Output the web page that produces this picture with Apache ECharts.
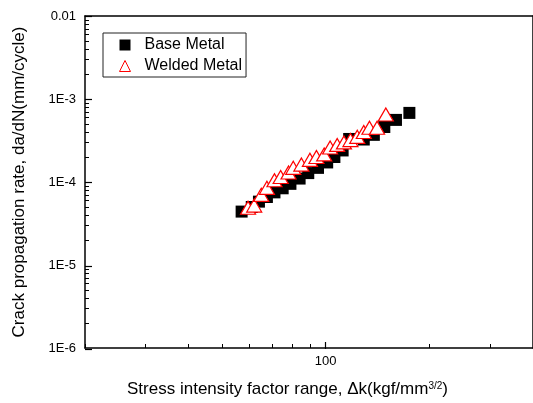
<!DOCTYPE html>
<html><head><meta charset="utf-8">
<script src="https://cdn.jsdelivr.net/npm/echarts@6/dist/echarts.min.js"></script>
<style>html,body{margin:0;padding:0;background:#fff}#c{width:533px;height:403px}</style>
</head><body><div id="c"></div>
<script>
// Data (stress intensity factor range in kgf/mm^3/2, crack growth rate in mm/cycle)
const baseK    = [57, 61, 64, 67.5, 71, 75, 79, 84, 89, 95, 101, 106, 112, 117, 129, 138, 148, 160, 175];
const baseRate = [4.4e-5, 5.0e-5, 5.8e-5, 6.6e-5, 7.5e-5, 8.4e-5, 9.5e-5, 1.1e-4, 1.28e-4, 1.48e-4, 1.72e-4, 2.0e-4, 2.4e-4, 3.3e-4, 3.25e-4, 3.7e-4, 4.6e-4, 5.6e-4, 6.8e-4];
const weldK    = [59.5, 62, 65, 67.5, 71, 74, 78, 80.5, 85, 90, 94, 99, 103, 108, 113, 118, 123.5, 129, 134, 141, 149.5];
const weldRate = [4.9e-5, 5.2e-5, 7.0e-5, 8.5e-5, 1.05e-4, 1.15e-4, 1.3e-4, 1.48e-4, 1.62e-4, 1.85e-4, 2.0e-4, 2.15e-4, 2.6e-4, 2.8e-4, 3.0e-4, 3.2e-4, 3.5e-4, 4.0e-4, 4.5e-4, 4.5e-4, 6.5e-4];
const seriesNames = ['Base Metal', 'Welded Metal'];

// Axis ranges and tick labels
const xRange = [20, 400];
const yRange = [1e-6, 1e-2];
const xMajorTicks = [100];
const xMinorTicks = [20, 30, 40, 50, 60, 70, 80, 90, 200, 300, 400];
const yMajorTicks = [1e-6, 1e-5, 1e-4, 1e-3, 1e-2];
const yTickLabels = ['1E-6', '1E-5', '1E-4', '1E-3', '0.01'];

const L = Math.log10;
const yMinorTicks = [];
for (let e = -6; e < -2; e++) for (let m = 2; m <= 9; m++) yMinorTicks.push(m * Math.pow(10, e));

const FONT = 'Liberation Sans, Arial, sans-serif';
const black = '#000';

function labelForY(v) {
  const i = yMajorTicks.findIndex(t => Math.abs(L(t) - v) < 1e-6);
  return i >= 0 ? yTickLabels[i] : '';
}
function labelForX(v) {
  const i = xMajorTicks.findIndex(t => Math.abs(L(t) - v) < 1e-6);
  return i >= 0 ? String(xMajorTicks[i]) : '';
}

const gridPos = { left: 85, top: 16, right: -5, bottom: 54 };

const chart = echarts.init(document.getElementById('c'), null, { renderer: 'canvas' });
chart.setOption({
  animation: false,
  backgroundColor: '#fff',
  grid: [Object.assign({ containLabel: false }, gridPos), Object.assign({ containLabel: false }, gridPos)],
  legend: {
    orient: 'vertical', left: 103, top: 33,
    itemWidth: 11, itemHeight: 11, itemGap: 5,
    padding: [4, 4, 3, 16],
    borderColor: '#222', borderWidth: 1,
    textStyle: { fontFamily: FONT, fontSize: 16, color: black, padding: [0, 0, 0, 9] },
    data: [
      { name: seriesNames[0], icon: 'rect' },
      { name: seriesNames[1], icon: 'triangle', itemStyle: { color: '#fff', borderColor: '#ff0000', borderWidth: 1 } }
    ]
  },
  xAxis: [
    {
      type: 'value', gridIndex: 0, position: 'bottom', min: L(xRange[0]), max: L(xRange[1]),
      axisLine: { show: true, onZero: false, lineStyle: { color: black, width: 1.5 } },
      axisTick: { show: true, inside: true, length: 4, customValues: xMinorTicks.map(L), lineStyle: { color: black, width: 1 } },
      axisLabel: { show: true, customValues: xMajorTicks.map(L), formatter: labelForX, fontFamily: FONT, fontSize: 13, color: black, margin: 7 },
      splitLine: { show: false },
      name: '{a|Stress intensity factor range, \u0394k(kgf/mm}{s|3/2}{a|)}',
      nameLocation: 'middle', nameGap: 33,
      nameTextStyle: {
        padding: [0, 43, 0, 0],
        rich: {
          a: { fontFamily: FONT, fontSize: 17, color: black },
          s: { fontFamily: FONT, fontSize: 10, color: black, verticalAlign: 'top', padding: [0, 0, 6, 0] }
        }
      }
    },
    {
      type: 'value', gridIndex: 0, position: 'top', min: L(xRange[0]), max: L(xRange[1]),
      axisLine: { show: true, onZero: false, lineStyle: { color: black, width: 1.5 } },
      axisTick: { show: false }, axisLabel: { show: false }, splitLine: { show: false }
    },
    {
      type: 'value', gridIndex: 1, position: 'bottom', min: L(xRange[0]), max: L(xRange[1]),
      axisLine: { show: false },
      axisTick: { show: true, inside: true, length: 7, customValues: xMajorTicks.map(L), lineStyle: { color: black, width: 1.2 } },
      axisLabel: { show: false }, splitLine: { show: false }
    }
  ],
  yAxis: [
    {
      type: 'value', gridIndex: 0, position: 'left', min: L(yRange[0]), max: L(yRange[1]),
      axisLine: { show: true, onZero: false, lineStyle: { color: black, width: 1.5 } },
      axisTick: { show: true, inside: true, length: 4, customValues: yMinorTicks.map(L), lineStyle: { color: black, width: 1 } },
      axisLabel: { show: true, customValues: yMajorTicks.map(L), formatter: labelForY, fontFamily: FONT, fontSize: 13, color: black, margin: 9 },
      splitLine: { show: false },
      name: 'Crack propagation rate, da/dN(mm/cycle)',
      nameLocation: 'middle', nameGap: 57,
      nameTextStyle: { fontFamily: FONT, fontSize: 17, color: black }
    },
    {
      type: 'value', gridIndex: 0, position: 'right', min: L(yRange[0]), max: L(yRange[1]),
      axisLine: { show: true, onZero: false, lineStyle: { color: black, width: 1.5 } },
      axisTick: { show: false }, axisLabel: { show: false }, splitLine: { show: false }
    },
    {
      type: 'value', gridIndex: 1, position: 'left', min: L(yRange[0]), max: L(yRange[1]),
      axisLine: { show: false },
      axisTick: { show: true, inside: true, length: 7, customValues: yMajorTicks.map(L), lineStyle: { color: black, width: 1.2 } },
      axisLabel: { show: false }, splitLine: { show: false }
    }
  ],
  series: [
    {
      name: seriesNames[0], type: 'scatter', xAxisIndex: 0, yAxisIndex: 0,
      symbol: 'rect', symbolSize: 12,
      itemStyle: { color: black, opacity: 1 },
      data: baseK.map((k, i) => [L(k), L(baseRate[i])])
    },
    {
      name: seriesNames[1], type: 'scatter', xAxisIndex: 0, yAxisIndex: 0,
      symbol: 'triangle', symbolSize: [15, 13],
      itemStyle: { color: '#fff', borderColor: '#ff0000', borderWidth: 1.2, opacity: 1 },
      data: weldK.map((k, i) => [L(k), L(weldRate[i])])
    }
  ]
});
</script></body></html>
